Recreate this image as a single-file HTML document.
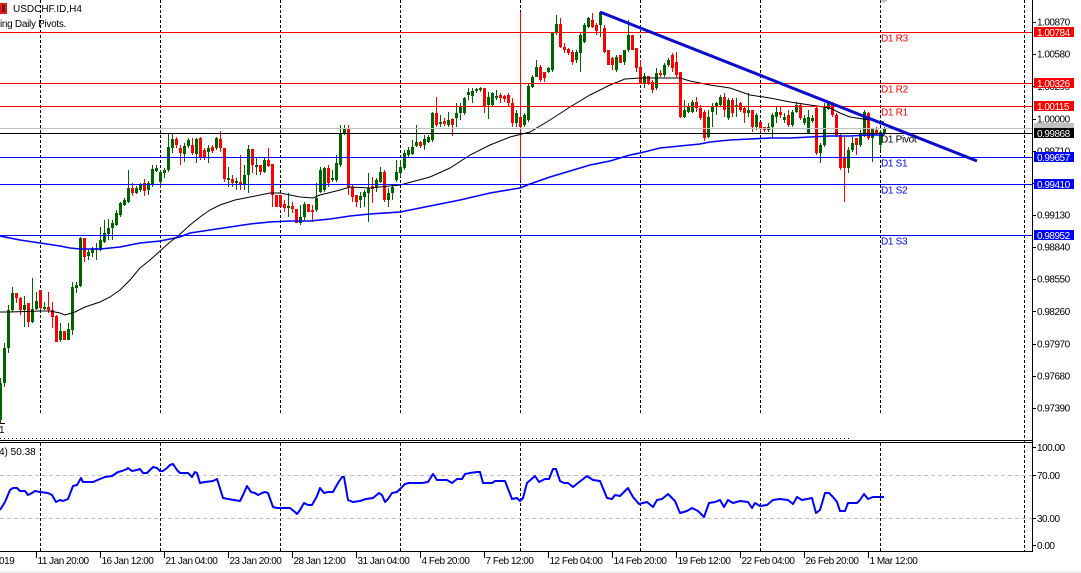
<!DOCTYPE html>
<html><head><meta charset="utf-8"><style>
html,body{margin:0;padding:0;background:#fff;}
svg{display:block;font-family:"Liberation Sans",Arial,sans-serif;}
</style></head><body>
<svg width="1081" height="573" viewBox="0 0 1081 573" xmlns="http://www.w3.org/2000/svg">
<rect x="0" y="0" width="1081" height="573" fill="#fff"/>
<rect x="0" y="571" width="1081" height="2" fill="#f0f0f0"/>

<!-- period separators -->
<g stroke="#000" stroke-width="1" stroke-dasharray="3,2" shape-rendering="crispEdges">
<path d="M40.5,0V414M160.5,0V414M280.5,0V414M400.5,0V414M520.5,0V414M640.5,0V414M760.5,0V414M880.5,0V414M1024.5,0V551"/>
<path d="M40.5,443V551M160.5,443V551M280.5,443V551M400.5,443V551M520.5,443V551M640.5,443V551M760.5,443V551M880.5,443V551"/>
</g>

<!-- candles -->
<g shape-rendering="crispEdges">
<path fill="#006400" d="M0,378h1V423h-1ZM-1,383h3V420h-3ZM4,343h1V387h-1ZM3,348h3V383h-3ZM8,305h1V353h-1ZM7,310h3V348h-3ZM12,287h1V312h-1ZM11,293h3V310h-3ZM24,296h1V327h-1ZM23,305h3V310h-3ZM32,278h1V323h-1ZM31,309h3V322h-3ZM36,292h1V310h-1ZM35,301h3V309h-3ZM44,302h1V310h-1ZM43,307h3V309h-3ZM60,323h1V342h-1ZM59,331h3V340h-3ZM68,323h1V340h-1ZM67,329h3V340h-3ZM72,282h1V335h-1ZM71,287h3V330h-3ZM76,282h1V293h-1ZM75,285h3V288h-3ZM80,237h1V287h-1ZM79,238h3V286h-3ZM88,250h1V260h-1ZM87,252h3V256h-3ZM92,247h1V257h-1ZM91,248h3V253h-3ZM96,243h1V260h-1ZM95,248h3V250h-3ZM100,227h1V251h-1ZM99,240h3V250h-3ZM104,220h1V243h-1ZM103,233h3V242h-3ZM108,219h1V240h-1ZM107,228h3V234h-3ZM112,220h1V240h-1ZM111,223h3V228h-3ZM116,210h1V226h-1ZM115,213h3V225h-3ZM120,202h1V217h-1ZM119,203h3V215h-3ZM124,198h1V206h-1ZM123,200h3V205h-3ZM128,170h1V203h-1ZM127,188h3V202h-3ZM136,186h1V194h-1ZM135,188h3V193h-3ZM140,183h1V192h-1ZM139,185h3V190h-3ZM148,181h1V195h-1ZM147,183h3V190h-3ZM152,165h1V187h-1ZM151,169h3V185h-3ZM156,165h1V172h-1ZM155,168h3V171h-3ZM160,170h1V188h-1ZM159,172h3V182h-3ZM164,168h1V178h-1ZM163,170h3V173h-3ZM168,133h1V172h-1ZM167,147h3V170h-3ZM172,133h1V153h-1ZM171,139h3V148h-3ZM184,143h1V162h-1ZM183,146h3V154h-3ZM188,138h1V148h-1ZM187,140h3V146h-3ZM196,138h1V163h-1ZM195,139h3V154h-3ZM208,145h1V163h-1ZM207,148h3V152h-3ZM216,137h1V150h-1ZM215,138h3V148h-3ZM228,167h1V187h-1ZM227,178h3V180h-3ZM236,178h1V190h-1ZM235,181h3V183h-3ZM244,165h1V190h-1ZM243,175h3V185h-3ZM248,145h1V193h-1ZM247,149h3V175h-3ZM256,158h1V175h-1ZM255,165h3V167h-3ZM264,158h1V173h-1ZM263,160h3V172h-3ZM288,193h1V217h-1ZM287,206h3V208h-3ZM300,205h1V225h-1ZM299,217h3V223h-3ZM304,202h1V220h-1ZM303,204h3V217h-3ZM316,183h1V212h-1ZM315,198h3V210h-3ZM320,167h1V193h-1ZM319,170h3V192h-3ZM324,167h1V192h-1ZM323,168h3V190h-3ZM332,170h1V182h-1ZM331,178h3V180h-3ZM336,155h1V182h-1ZM335,163h3V180h-3ZM340,125h1V167h-1ZM339,133h3V165h-3ZM344,125h1V135h-1ZM343,128h3V133h-3ZM360,192h1V208h-1ZM359,196h3V200h-3ZM364,190h1V207h-1ZM363,192h3V197h-3ZM368,173h1V222h-1ZM367,188h3V193h-3ZM376,178h1V192h-1ZM375,180h3V188h-3ZM380,167h1V183h-1ZM379,172h3V182h-3ZM388,188h1V207h-1ZM387,193h3V200h-3ZM392,185h1V200h-1ZM391,187h3V193h-3ZM396,160h1V182h-1ZM395,172h3V180h-3ZM400,160h1V177h-1ZM399,167h3V173h-3ZM404,150h1V170h-1ZM403,153h3V168h-3ZM408,147h1V158h-1ZM407,150h3V155h-3ZM412,140h1V155h-1ZM411,147h3V154h-3ZM416,125h1V147h-1ZM415,142h3V146h-3ZM424,135h1V150h-1ZM423,139h3V145h-3ZM428,135h1V143h-1ZM427,137h3V142h-3ZM432,112h1V142h-1ZM431,113h3V140h-3ZM440,115h1V127h-1ZM439,122h3V124h-3ZM448,112h1V127h-1ZM447,120h3V125h-3ZM456,103h1V127h-1ZM455,113h3V118h-3ZM460,103h1V120h-1ZM459,107h3V113h-3ZM464,97h1V115h-1ZM463,98h3V113h-3ZM468,88h1V100h-1ZM467,92h3V95h-3ZM472,88h1V103h-1ZM471,91h3V96h-3ZM476,88h1V93h-1ZM475,89h3V91h-3ZM480,87h1V92h-1ZM479,88h3V90h-3ZM488,92h1V119h-1ZM487,97h3V105h-3ZM492,92h1V107h-1ZM491,93h3V105h-3ZM496,90h1V100h-1ZM495,96h3V98h-3ZM516,110h1V127h-1ZM515,113h3V123h-3ZM524,113h1V127h-1ZM523,115h3V125h-3ZM528,83h1V122h-1ZM527,86h3V120h-3ZM532,75h1V88h-1ZM531,77h3V87h-3ZM536,60h1V77h-1ZM535,67h3V77h-3ZM548,67h1V73h-1ZM547,68h3V72h-3ZM552,32h1V72h-1ZM551,33h3V70h-3ZM556,15h1V35h-1ZM555,24h3V33h-3ZM576,50h1V63h-1ZM575,52h3V60h-3ZM580,33h1V72h-1ZM579,35h3V53h-3ZM584,23h1V43h-1ZM583,25h3V42h-3ZM588,17h1V28h-1ZM587,18h3V27h-3ZM600,12h1V37h-1ZM599,12h3V25h-3ZM616,55h1V72h-1ZM615,57h3V70h-3ZM624,50h1V65h-1ZM623,50h3V62h-3ZM628,20h1V52h-1ZM627,35h3V50h-3ZM644,73h1V88h-1ZM643,76h3V83h-3ZM656,68h1V90h-1ZM655,73h3V88h-3ZM664,63h1V77h-1ZM663,65h3V75h-3ZM668,58h1V67h-1ZM667,60h3V65h-3ZM684,100h1V118h-1ZM683,110h3V117h-3ZM688,103h1V113h-1ZM687,107h3V112h-3ZM692,100h1V113h-1ZM691,102h3V112h-3ZM708,110h1V138h-1ZM707,117h3V137h-3ZM712,103h1V127h-1ZM711,107h3V112h-3ZM716,102h1V115h-1ZM715,103h3V107h-3ZM720,95h1V107h-1ZM719,97h3V105h-3ZM728,98h1V120h-1ZM727,100h3V118h-3ZM736,98h1V117h-1ZM735,105h3V107h-3ZM748,93h1V117h-1ZM747,110h3V113h-3ZM756,113h1V130h-1ZM755,115h3V127h-3ZM768,123h1V132h-1ZM767,127h3V130h-3ZM772,113h1V138h-1ZM771,115h3V127h-3ZM776,107h1V123h-1ZM775,112h3V117h-3ZM784,113h1V123h-1ZM783,117h3V120h-3ZM792,110h1V127h-1ZM791,112h3V125h-3ZM796,102h1V113h-1ZM795,105h3V112h-3ZM804,115h1V125h-1ZM803,118h3V123h-3ZM808,110h1V133h-1ZM807,117h3V133h-3ZM812,115h1V123h-1ZM811,118h3V121h-3ZM820,143h1V163h-1ZM819,145h3V153h-3ZM824,103h1V147h-1ZM823,108h3V145h-3ZM828,102h1V110h-1ZM827,103h3V109h-3ZM848,147h1V173h-1ZM847,150h3V168h-3ZM852,137h1V152h-1ZM851,143h3V150h-3ZM860,130h1V147h-1ZM859,133h3V145h-3ZM864,110h1V137h-1ZM863,112h3V135h-3ZM872,128h1V162h-1ZM871,128h3V138h-3ZM880,130h1V150h-1ZM879,132h3V145h-3ZM884,127h1V135h-1ZM883,128h3V133h-3Z"/>
<path fill="#ff0000" d="M16,293h1V303h-1ZM15,293h3V298h-3ZM20,297h1V315h-1ZM19,298h3V310h-3ZM28,303h1V327h-1ZM27,303h3V322h-3ZM40,290h1V310h-1ZM39,290h3V308h-3ZM48,292h1V313h-1ZM47,307h3V310h-3ZM52,302h1V328h-1ZM51,310h3V317h-3ZM56,315h1V342h-1ZM55,316h3V342h-3ZM64,331h1V340h-1ZM63,331h3V340h-3ZM84,238h1V262h-1ZM83,238h3V257h-3ZM132,183h1V196h-1ZM131,188h3V193h-3ZM144,179h1V196h-1ZM143,183h3V191h-3ZM176,137h1V148h-1ZM175,139h3V145h-3ZM180,145h1V165h-1ZM179,148h3V153h-3ZM192,138h1V155h-1ZM191,145h3V153h-3ZM200,137h1V160h-1ZM199,138h3V158h-3ZM204,148h1V160h-1ZM203,150h3V158h-3ZM212,145h1V153h-1ZM211,147h3V151h-3ZM220,131h1V152h-1ZM219,139h3V148h-3ZM224,148h1V182h-1ZM223,148h3V179h-3ZM232,175h1V187h-1ZM231,179h3V183h-3ZM240,155h1V190h-1ZM239,182h3V185h-3ZM252,149h1V173h-1ZM251,149h3V165h-3ZM260,165h1V175h-1ZM259,165h3V172h-3ZM268,148h1V167h-1ZM267,160h3V166h-3ZM272,164h1V207h-1ZM271,164h3V195h-3ZM276,195h1V207h-1ZM275,195h3V207h-3ZM280,195h1V207h-1ZM279,195h3V207h-3ZM284,200h1V212h-1ZM283,204h3V208h-3ZM292,202h1V213h-1ZM291,206h3V209h-3ZM296,209h1V223h-1ZM295,209h3V223h-3ZM308,204h1V212h-1ZM307,204h3V212h-3ZM312,205h1V222h-1ZM311,210h3V212h-3ZM328,165h1V187h-1ZM327,168h3V183h-3ZM348,125h1V195h-1ZM347,128h3V187h-3ZM352,185h1V202h-1ZM351,187h3V197h-3ZM356,195h1V207h-1ZM355,195h3V202h-3ZM372,177h1V203h-1ZM371,186h3V189h-3ZM384,170h1V202h-1ZM383,172h3V200h-3ZM420,141h1V148h-1ZM419,142h3V146h-3ZM436,97h1V127h-1ZM435,113h3V125h-3ZM444,118h1V126h-1ZM443,121h3V124h-3ZM452,118h1V136h-1ZM451,119h3V125h-3ZM484,88h1V113h-1ZM483,88h3V106h-3ZM500,93h1V103h-1ZM499,95h3V98h-3ZM504,95h1V102h-1ZM503,96h3V99h-3ZM508,93h1V107h-1ZM507,95h3V103h-3ZM512,98h1V127h-1ZM511,103h3V123h-3ZM520,12h1V180h-1ZM519,117h3V127h-3ZM540,65h1V82h-1ZM539,67h3V80h-3ZM544,72h1V82h-1ZM543,72h3V78h-3ZM560,18h1V48h-1ZM559,24h3V47h-3ZM564,43h1V53h-1ZM563,47h3V50h-3ZM568,48h1V55h-1ZM567,49h3V53h-3ZM572,50h1V65h-1ZM571,52h3V62h-3ZM592,13h1V28h-1ZM591,20h3V27h-3ZM596,23h1V35h-1ZM595,25h3V31h-3ZM604,25h1V53h-1ZM603,28h3V52h-3ZM608,50h1V65h-1ZM607,50h3V65h-3ZM612,57h1V70h-1ZM611,58h3V65h-3ZM620,55h1V63h-1ZM619,55h3V63h-3ZM632,35h1V50h-1ZM631,35h3V50h-3ZM636,48h1V72h-1ZM635,48h3V68h-3ZM640,60h1V83h-1ZM639,67h3V83h-3ZM648,76h1V85h-1ZM647,76h3V83h-3ZM652,80h1V93h-1ZM651,82h3V90h-3ZM660,70h1V77h-1ZM659,73h3V75h-3ZM672,53h1V72h-1ZM671,55h3V68h-3ZM676,52h1V77h-1ZM675,62h3V75h-3ZM680,72h1V118h-1ZM679,72h3V117h-3ZM696,97h1V112h-1ZM695,102h3V108h-3ZM700,105h1V120h-1ZM699,108h3V118h-3ZM704,110h1V141h-1ZM703,112h3V138h-3ZM724,93h1V117h-1ZM723,97h3V110h-3ZM732,98h1V117h-1ZM731,100h3V113h-3ZM740,102h1V112h-1ZM739,103h3V110h-3ZM744,107h1V123h-1ZM743,108h3V113h-3ZM752,110h1V132h-1ZM751,110h3V127h-3ZM760,122h1V132h-1ZM759,122h3V128h-3ZM764,127h1V132h-1ZM763,127h3V130h-3ZM780,107h1V118h-1ZM779,112h3V115h-3ZM788,110h1V127h-1ZM787,115h3V125h-3ZM800,103h1V120h-1ZM799,105h3V118h-3ZM816,107h1V155h-1ZM815,108h3V153h-3ZM832,102h1V117h-1ZM831,103h3V115h-3ZM836,113h1V137h-1ZM835,115h3V135h-3ZM840,133h1V170h-1ZM839,135h3V168h-3ZM844,137h1V202h-1ZM843,158h3V168h-3ZM856,138h1V155h-1ZM855,138h3V145h-3ZM868,112h1V140h-1ZM867,113h3V138h-3ZM876,127h1V135h-1ZM875,130h3V133h-3Z"/>
</g>

<!-- moving averages -->
<polyline fill="none" stroke="#0000ff" stroke-width="1.6" points="0,236 20,240 40,243 60,246 70,248 80,249 100,249 120,247 140,243 160,241 180,237 190,233 210,230 230,227 250,224 270,222 290,221 310,221 330,219 350,216 370,214 400,212 430,206 460,200 490,193 520,188 530,184 550,177 570,171 590,165 610,161 630,155 640,153 660,148 680,146 700,144 710,142 730,140 750,139 770,138 790,138 810,137 830,136 850,136 870,135 884,135"/>
<polyline fill="none" stroke="#000" stroke-width="1" points="0,312 10,312 40,311 50,311 60,313 65,315 75,312 85,307 100,302 110,297 120,290 130,280 140,268 150,260 160,251 170,242 178,236 190,225 200,217 210,210 220,205 235,200 250,197 270,193 280,193 290,195 300,197 313,198 320,195 340,190 350,187 370,188 400,185 430,177 450,168 470,155 490,145 510,137 530,132 550,120 570,107 590,95 610,85 625,79 640,78 680,78 690,81 700,83 710,85 730,88 750,95 770,98 790,102 810,105 830,108 840,113 850,117 870,120 884,122"/>

<!-- pivot lines -->
<g stroke-width="1" shape-rendering="crispEdges">
<line x1="0" y1="32.5" x2="1032" y2="32.5" stroke="#ff0000"/>
<line x1="0" y1="83.5" x2="1032" y2="83.5" stroke="#ff0000"/>
<line x1="0" y1="106.5" x2="1032" y2="106.5" stroke="#ff0000"/>
<line x1="0" y1="128.5" x2="1032" y2="128.5" stroke="#c0c0c0"/>
<line x1="0" y1="133.5" x2="1032" y2="133.5" stroke="#000"/>
<line x1="0" y1="157.5" x2="1032" y2="157.5" stroke="#0000ff"/>
<line x1="0" y1="184.5" x2="1032" y2="184.5" stroke="#0000ff"/>
<line x1="0" y1="235.5" x2="1032" y2="235.5" stroke="#0000ff"/>
</g>

<!-- trendline -->
<line x1="600" y1="12" x2="977" y2="161" stroke="#0c0cd0" stroke-width="3"/>

<!-- pivot labels -->
<g font-size="10" letter-spacing="-0.3">
<text x="881" y="41.5" fill="#ff0000">D1 R3</text>
<text x="881" y="92.5" fill="#ff0000">D1 R2</text>
<text x="881" y="115.5" fill="#ff0000">D1 R1</text>
<text x="881" y="142.5" fill="#000">D1 Pivot</text>
<text x="881" y="166.5" fill="#0000ff">D1 S1</text>
<text x="881" y="193.5" fill="#0000ff">D1 S2</text>
<text x="881" y="244.5" fill="#0000ff">D1 S3</text>
</g>

<!-- header -->
<rect x="0" y="3" width="7" height="11" fill="#d42020"/>
<rect x="2" y="5" width="3" height="7" fill="#8a1010"/>
<text x="13" y="12" font-size="10" fill="#000">USDCHF.ID,H4</text>
<text x="0" y="27" font-size="10" letter-spacing="-0.3" fill="#000">ing Daily Pivots.</text>
<polygon points="880,0 888,0 884,3" fill="#c0c0c0"/>

<!-- bottom-left marker -->
<line x1="0" y1="423.5" x2="5" y2="423.5" stroke="#000"/>
<text x="-1" y="433" font-size="10" fill="#000">1</text>
<line x1="0" y1="438.5" x2="850" y2="438.5" stroke="#000" stroke-dasharray="1,3" shape-rendering="crispEdges"/>

<!-- panel frame -->
<g stroke="#000" stroke-width="1" shape-rendering="crispEdges">
<line x1="0" y1="440.5" x2="1032" y2="440.5"/>
<line x1="0" y1="442.5" x2="1032" y2="442.5"/>
<line x1="0" y1="551.5" x2="1032" y2="551.5"/>
<line x1="1032.5" y1="0" x2="1032.5" y2="552"/>
<path d="M1032,22.5h4M1032,54.5h4M1032,86.5h4M1032,119.5h4M1032,151.5h4M1032,183.5h4M1032,215.5h4M1032,247.5h4M1032,279.5h4M1032,311.5h4M1032,344.5h4M1032,376.5h4M1032,408.5h4"/>
<path d="M1032,447.5h4M1032,475.5h4M1032,518.5h4M1032,545.5h4"/>
<path d="M36.5,552V558M100.5,552V558M164.5,552V558M228.5,552V558M292.5,552V558M356.5,552V558M420.5,552V558M484.5,552V558M548.5,552V558M612.5,552V558M676.5,552V558M740.5,552V558M804.5,552V558M868.5,552V558"/>
</g>

<!-- price axis labels -->
<g font-size="10" letter-spacing="-0.5" fill="#000">
<text x="1037" y="25.5">1.00870</text>
<text x="1037" y="57.5">1.00580</text>
<text x="1037" y="90">1.00290</text>
<text x="1037" y="122.5">1.00000</text>
<text x="1037" y="154.5">0.99710</text>
<text x="1037" y="186.5">0.99420</text>
<text x="1037" y="218.5">0.99130</text>
<text x="1037" y="250.5">0.98840</text>
<text x="1037" y="282.5">0.98550</text>
<text x="1037" y="315">0.98260</text>
<text x="1037" y="347.5">0.97970</text>
<text x="1037" y="379.5">0.97680</text>
<text x="1037" y="411.5">0.97390</text>
</g>
<!-- price boxes -->
<g shape-rendering="crispEdges">
<rect x="1034" y="27" width="40" height="10" fill="#ff0000"/>
<rect x="1034" y="78" width="40" height="10" fill="#ff0000"/>
<rect x="1034" y="101" width="40" height="10" fill="#ff0000"/>
<rect x="1034" y="123" width="40" height="10" fill="#c0c0c0"/>
<rect x="1034" y="128" width="40" height="10" fill="#000"/>
<rect x="1034" y="152" width="40" height="10" fill="#0000ff"/>
<rect x="1034" y="179" width="40" height="10" fill="#0000ff"/>
<rect x="1034" y="230" width="40" height="10" fill="#0000ff"/>
</g>
<g font-size="10" letter-spacing="-0.5" fill="#fff">
<text x="1037" y="36">1.00784</text>
<text x="1037" y="87">1.00326</text>
<text x="1037" y="110">1.00115</text>
<text x="1037" y="137">0.99868</text>
<text x="1037" y="161">0.99657</text>
<text x="1037" y="188">0.99410</text>
<text x="1037" y="239">0.98952</text>
</g>

<!-- RSI panel -->
<g stroke="#c0c0c0" stroke-width="1" stroke-dasharray="4,3" shape-rendering="crispEdges">
<line x1="0" y1="475.5" x2="1032" y2="475.5"/>
<line x1="0" y1="518.5" x2="1032" y2="518.5"/>
</g>
<polyline fill="none" stroke="#0000ff" stroke-width="2" stroke-linejoin="round" points="0,510 5,502 10,490 13,488 17,488 20,491 25,491 28,495 32,493 35,491 40,492 48,493 52,495 56,502 60,500 63,501 68,499 73,486 77,485 81,478 83,482 93,482 100,479 105,477 112,476 118,472 122,471 127,469 128,468 132,471 137,470 140,469 143,473 147,473 153,467 157,468 160,471 163,471 167,468 170,465 173,464 177,470 180,473 188,473 192,477 195,472 197,473 200,483 205,482 213,481 217,479 218,482 223,498 228,499 240,501 243,495 247,486 251,492 255,493 258,495 262,493 265,492 268,493 273,507 277,508 290,508 295,512 297,514 300,510 304,503 308,505 312,505 317,496 320,488 324,493 328,492 333,492 338,483 342,477 344,477 348,500 353,502 360,501 366,499 373,498 379,493 382,495 385,502 388,499 392,493 397,492 400,489 405,484 409,483 417,483 422,483 428,482 433,474 437,480 447,480 452,483 457,479 462,479 465,474 470,473 477,472 480,472 483,483 492,483 495,481 505,481 512,499 517,498 520,501 523,498 527,483 535,476 539,482 545,479 549,479 553,469 556,469 560,481 564,483 568,483 573,487 578,483 587,476 593,480 600,481 607,498 612,499 615,495 620,496 628,488 633,497 639,504 647,502 653,507 657,500 662,499 668,494 675,501 680,513 687,511 692,508 698,511 704,517 709,503 715,502 720,500 724,507 728,500 733,503 740,501 748,502 752,508 755,503 760,506 767,505 773,500 780,499 788,500 793,504 797,497 802,500 807,499 812,498 816,513 820,510 825,493 829,493 833,497 837,502 840,511 845,511 848,503 857,503 860,500 864,494 868,499 873,497 880,497 884,497"/>
<text x="-1" y="455" font-size="10" fill="#000">4) 50.38</text>
<g font-size="10" letter-spacing="-0.5" fill="#000">
<text x="1037" y="451">100.00</text>
<text x="1037" y="479">70.00</text>
<text x="1037" y="522">30.00</text>
<text x="1037" y="549">0.00</text>
</g>

<!-- time labels -->
<g font-size="10" letter-spacing="-0.5" fill="#000">
<text x="-6" y="564">2019</text>
<text x="37.5" y="564">11 Jan 20:00</text>
<text x="101.5" y="564">16 Jan 12:00</text>
<text x="165.5" y="564">21 Jan 04:00</text>
<text x="229.5" y="564">23 Jan 20:00</text>
<text x="293.5" y="564">28 Jan 12:00</text>
<text x="357.5" y="564">31 Jan 04:00</text>
<text x="421.5" y="564">4 Feb 20:00</text>
<text x="485.5" y="564">7 Feb 12:00</text>
<text x="549.5" y="564">12 Feb 04:00</text>
<text x="613.5" y="564">14 Feb 20:00</text>
<text x="677.5" y="564">19 Feb 12:00</text>
<text x="741.5" y="564">22 Feb 04:00</text>
<text x="805.5" y="564">26 Feb 20:00</text>
<text x="869.5" y="564">1 Mar 12:00</text>
</g>
</svg>
</body></html>
